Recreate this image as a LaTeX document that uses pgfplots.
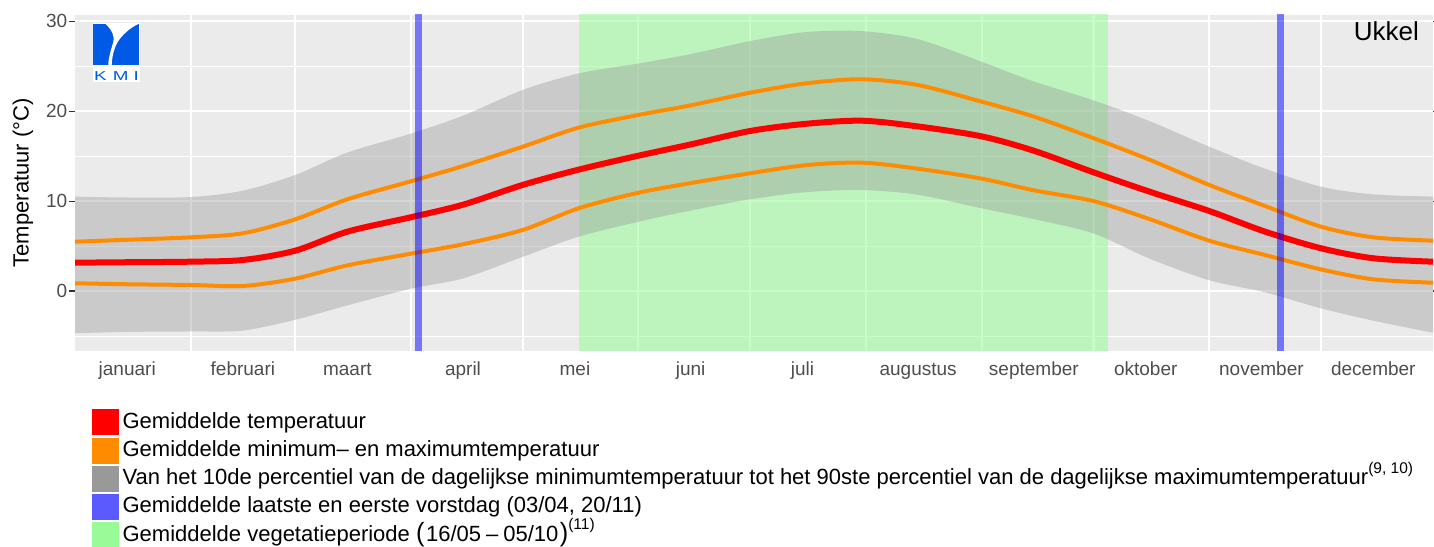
\documentclass[border=0pt]{standalone}
\usepackage{fontspec}
\setmainfont{Liberation Sans}
\usepackage{pgfplots}
\usepackage{pgfplotstable}
\pgfplotsset{compat=1.18}
\usepgfplotslibrary{fillbetween}
\usepackage{graphicx}

\definecolor{panelbg}{RGB}{235,235,235}
\definecolor{tickgrey}{RGB}{77,77,77}
\definecolor{tickmark}{RGB}{51,51,51}
\definecolor{ggred}{RGB}{255,0,0}
\definecolor{ggorange}{RGB}{255,140,0}
\definecolor{bandgrey}{RGB}{153,153,153}
\definecolor{vblue}{RGB}{0,0,255}
\definecolor{legblue}{RGB}{90,90,255}
\definecolor{palegreen}{RGB}{152,251,152}
\definecolor{kmiblue}{RGB}{0,90,230}

\pgfplotstableread{
day tmean tmax tmin p90 p10
1 3.15 5.48 0.86 10.5 -4.7
15 3.2 5.7 0.75 10.4 -4.55
32 3.26 5.97 0.67 10.45 -4.5
46 3.45 6.42 0.56 11.16 -4.4
60 4.48 7.97 1.37 12.9 -3.2
74 6.6 10.2 2.85 15.4 -1.6
91 8.2 12.2 4.15 17.5 0.25
105 9.6 13.9 5.2 19.5 1.4
121 11.8 16.05 6.79 22.36 3.8
136 13.5 18.17 9.2 24.2 6.04
152 15.05 19.58 10.93 25.3 7.7
166 16.3 20.65 12.0 26.35 8.95
182 17.8 22.06 13.1 27.8 10.2
197 18.6 23.1 14.0 28.8 11.0
212 18.94 23.55 14.27 28.9 11.23
227 18.3 22.9 13.6 28.0 10.7
244 17.2 21.06 12.5 25.5 9.2
258 15.6 19.4 11.2 23.3 8.0
274 13.2 17.0 10.0 21.2 6.4
289 11.05 14.6 8.0 18.9 3.6
305 8.9 11.8 5.6 16.05 1.2
320 6.6 9.45 4.0 13.6 -0.15
335 4.75 7.15 2.4 11.6 -1.93
349 3.64 5.97 1.3 10.75 -3.3
365 3.26 5.6 0.92 10.5 -4.64
}\clim

\pgfplotstableread{
x lo hi
136 -10 35
278 -10 35
}\veg

\begin{document}
\begin{tikzpicture}
\begin{axis}[
  scale only axis,
  width=1358bp, height=335.7bp,
  xmin=1, xmax=365,
  ymin=-6.64, ymax=30.7,
  axis background/.style={fill=panelbg},
  axis line style={draw=none},
  xtick={15,46,74,105,135,166,196,227,258,288,319,349},
  xticklabels={januari,februari,maart,april,mei,juni,juli,augustus,september,oktober,november,december},
  minor xtick={32,60,91,121,152,182,213,244,274,305,335},
  ytick={0,10,20,30},
  minor ytick={-5,5,15,25},
  xmajorgrids=false, xminorgrids=true,
  ymajorgrids=true, yminorgrids=true,
  major y grid style={white, line width=1.6bp},
  minor y grid style={white, line width=0.9bp},
  minor x grid style={white, line width=2.2bp},
  tick align=outside,
  major tick length=6bp,
  minor tick length=0bp,
  xtick style={draw=none, /pgfplots/major tick length=0bp},
  ytick style={draw=tickmark, line width=1.1bp},
  minor tick style={draw=none},
  /pgf/number format/assume math mode=true,
  xticklabel style={font=\fontsize{19bp}{19bp}\selectfont, text=tickgrey, anchor=north, inner sep=0pt, yshift=-4.3bp, text height=13.9bp, text depth=4bp},
  yticklabel style={font=\fontsize{19bp}{19bp}\selectfont, text=tickgrey, anchor=east, inner sep=0pt, xshift=-1.5bp},
  ylabel={Temperatuur (°C)},
  every axis y label/.style={at={(axis description cs:-0.0383,0.5)}, rotate=90, anchor=center, font=\fontsize{22bp}{22bp}\selectfont, inner sep=0pt},
  legend style={at={(0.01274,-0.1746)}, anchor=north west, draw=none, fill=none,
    inner sep=0pt, outer sep=0pt, row sep=2.8bp, column sep=4.5bp,
    font=\fontsize{22bp}{26bp}\selectfont,
    nodes={inner sep=0pt, text height=16bp, text depth=4.6bp}},
  legend cell align=left,
]
% vegetation period
\addplot[name path=vlo, draw=none, forget plot] table[x=x,y=lo]{\veg};
\addplot[name path=vhi, draw=none, forget plot] table[x=x,y=hi]{\veg};
\addplot[palegreen, fill opacity=0.55, draw=none, forget plot] fill between[of=vhi and vlo];
% percentile band
\addplot[name path=p90, draw=none, smooth, forget plot] table[x=day,y=p90]{\clim};
\addplot[name path=p10, draw=none, smooth, forget plot] table[x=day,y=p10]{\clim};
\addplot[bandgrey, fill opacity=0.4, draw=none, forget plot] fill between[of=p90 and p10];
% min / max
\addplot[ggorange, line width=4bp, smooth, forget plot] table[x=day,y=tmax]{\clim};
\addplot[ggorange, line width=4bp, smooth, forget plot] table[x=day,y=tmin]{\clim};
% mean
\addplot[ggred, line width=6bp, smooth, forget plot] table[x=day,y=tmean]{\clim};
% frost days
\addplot[vblue, opacity=0.5, line width=7bp, forget plot] coordinates {(93,-10) (93,35)};
\addplot[vblue, opacity=0.5, line width=7bp, forget plot] coordinates {(324,-10) (324,35)};

% legend
\addlegendimage{legend image code/.code={\fill[ggred] (0bp,-12bp) rectangle (25.4bp,13bp);}}
\addlegendentry{Gemiddelde temperatuur}
\addlegendimage{legend image code/.code={\fill[ggorange] (0bp,-12bp) rectangle (25.4bp,13bp);}}
\addlegendentry{Gemiddelde minimum– en maximumtemperatuur}
\addlegendimage{legend image code/.code={\fill[bandgrey] (0bp,-12bp) rectangle (25.4bp,13bp);}}
\addlegendentry{Van het 10de percentiel van de dagelijkse minimumtemperatuur tot het 90ste percentiel van de dagelijkse maximumtemperatuur\raisebox{11.5bp}{\fontsize{15.5bp}{15.5bp}\selectfont(9, 10)}}
\addlegendimage{legend image code/.code={\fill[legblue] (0bp,-12bp) rectangle (25.4bp,13bp);}}
\addlegendentry{Gemiddelde laatste en eerste vorstdag (03/04, 20/11)}
\addlegendimage{legend image code/.code={\fill[palegreen] (0bp,-12bp) rectangle (25.4bp,13bp);}}
\addlegendentry{Gemiddelde vegetatieperiode \scalebox{1.15}[1.2]{(}\hspace{1.5bp}16/05\hspace{5bp}–\hspace{5bp}05/10\hspace{1.5bp}\scalebox{1.15}[1.2]{)}\raisebox{12bp}{\fontsize{15.5bp}{15.5bp}\selectfont(11)}}

% station name
\node[anchor=north east, inner sep=0pt, font=\fontsize{26bp}{26bp}\selectfont] at (rel axis cs:0.9897,0.98) {Ukkel};
\end{axis}

% KMI logo (panel top-left corner is at (0,335.7bp))
\begin{scope}[shift={(0bp,335.7bp)}, x=1bp, y=-1bp]
  \fill[white] (17.7,7.7) rectangle (65,66.7);
  \fill[kmiblue] (18.3,9) rectangle (64,50);
  \fill[white] (30.7,9) .. controls (37,15) and (40,22) .. (38.3,27)
     .. controls (36,35) and (33.5,42) .. (33.3,50) -- (36.7,50)
     .. controls (37,42) and (39,32) .. (44,25)
     .. controls (50,17) and (57,12) .. (63.3,9) -- cycle;
  \node[anchor=base, inner sep=0pt, text=kmiblue, xscale=1.45, font=\fontsize{13bp}{13bp}\selectfont] at (25.5,65.7) {K};
  \node[anchor=base, inner sep=0pt, text=kmiblue, xscale=1.45, font=\fontsize{13bp}{13bp}\selectfont] at (45.8,65.7) {M};
  \node[anchor=base, inner sep=0pt, text=kmiblue, xscale=1.45, font=\fontsize{13bp}{13bp}\selectfont] at (61.2,65.7) {I};
\end{scope}
\pgfresetboundingbox
\useasboundingbox (-75bp,-196.3bp) rectangle (1359bp,350.7bp);
\end{tikzpicture}
\end{document}
